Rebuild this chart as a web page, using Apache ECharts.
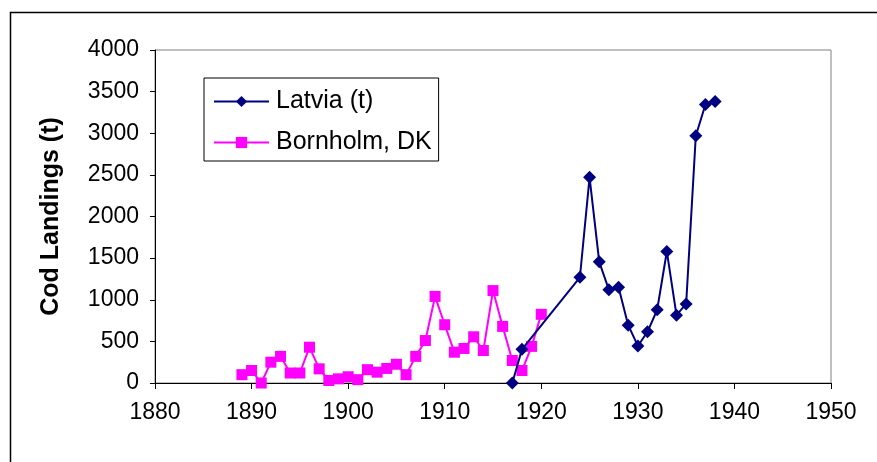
<!DOCTYPE html>
<html lang="en">
  <head>
    <meta charset="UTF-8" />
    <title>Cod Landings</title>
    <script src="https://cdn.jsdelivr.net/npm/echarts@6/dist/echarts.min.js"></script>
    <style>
      html,
      body {
        margin: 0;
        padding: 0;
        background: #fff;
      }
      #box {
        width: 877px;
        height: 462px;
      }
    </style>
  </head>
  <body>
    <div id="box"></div>
    <script>
      // Bornholm, DK (1889-1920)
      const bornholmYears = [
        1889, 1890, 1891, 1892, 1893, 1894, 1895, 1896, 1897, 1898, 1899,
        1900, 1901, 1902, 1903, 1904, 1905, 1906, 1907, 1908, 1909, 1910,
        1911, 1912, 1913, 1914, 1915, 1916, 1917, 1918, 1919, 1920,
      ];
      const bornholmValues = [
        100, 150, 0, 250, 320, 120, 120, 430, 170, 30, 50,
        75, 40, 160, 130, 175, 225, 100, 320, 510, 1040, 700,
        370, 415, 555, 390, 1110, 680, 270, 150, 440, 825,
      ];
      // Latvia (t)
      const latviaYears = [
        1917, 1918, 1924, 1925, 1926, 1927, 1928, 1929, 1930, 1931, 1932,
        1933, 1934, 1935, 1936, 1937, 1938,
      ];
      const latviaValues = [
        0, 405, 1270, 2470, 1455, 1120, 1150, 695, 445, 615, 880,
        1580, 815, 950, 2970, 3345, 3380,
      ];

      const pairs = (xs, ys) => xs.map((x, i) => [x, ys[i]]);
      const font = "Liberation Sans, Arial, sans-serif";

      var myChart = echarts.init(document.getElementById("box"));
      var option = {
        animation: false,
        backgroundColor: "#fff",
        graphic: [
          {
            type: "rect",
            left: 8,
            top: 10,
            shape: { width: 1000, height: 1000 },
            style: { fill: "none", stroke: "#000", lineWidth: 1.5 },
          },
        ],
        grid: {
          left: 155,
          right: 46,
          top: 50,
          bottom: 79,
          show: true,
          borderColor: "#808080",
          borderWidth: 1,
        },
        legend: {
          left: 204,
          top: 78,
          orient: "vertical",
          data: ["Latvia (t)", "Bornholm, DK"],
          itemWidth: 55,
          itemHeight: 14,
          itemGap: 16,
          padding: [11, 7, 6, 9],
          borderColor: "#000",
          borderWidth: 1,
          textStyle: {
            color: "#000",
            fontFamily: font,
            fontSize: 25,
            lineHeight: 25,
            padding: [0, 0, 0, 2],
          },
        },
        xAxis: {
          type: "value",
          min: 1880,
          max: 1950,
          interval: 10,
          axisLine: { show: true, onZero: false, lineStyle: { color: "#000", width: 1 } },
          axisTick: { show: true, length: 6, lineStyle: { color: "#000" } },
          axisLabel: {
            color: "#000",
            fontFamily: font,
            fontSize: 23,
            margin: 18,
            formatter: (v) => String(v),
          },
          splitLine: { show: false },
        },
        yAxis: {
          type: "value",
          min: 0,
          max: 4000,
          interval: 500,
          name: "Cod Landings (t)",
          nameLocation: "middle",
          nameGap: 91,
          nameTextStyle: {
            color: "#000",
            fontFamily: font,
            fontSize: 25,
            fontWeight: "bold",
          },
          axisLine: { show: true, lineStyle: { color: "#000", width: 1 } },
          axisTick: { show: true, length: 5, lineStyle: { color: "#000" } },
          axisLabel: {
            color: "#000",
            fontFamily: font,
            fontSize: 23,
            margin: 16,
            formatter: (v) => String(v),
          },
          splitLine: { show: false },
        },
        series: [
          {
            name: "Bornholm, DK",
            type: "line",
            data: pairs(bornholmYears, bornholmValues),
            symbol: "rect",
            symbolSize: 11,
            color: "#ff00ff",
            lineStyle: { color: "#ff00ff", width: 2 },
            itemStyle: { color: "#ff00ff" },
            z: 2,
          },
          {
            name: "Latvia (t)",
            type: "line",
            data: pairs(latviaYears, latviaValues),
            symbol: "diamond",
            symbolSize: [13, 13],
            color: "#000080",
            lineStyle: { color: "#000080", width: 2 },
            itemStyle: { color: "#000080" },
            z: 3,
          },
        ],
      };
      myChart.setOption(option);
    </script>
  </body>
</html>
